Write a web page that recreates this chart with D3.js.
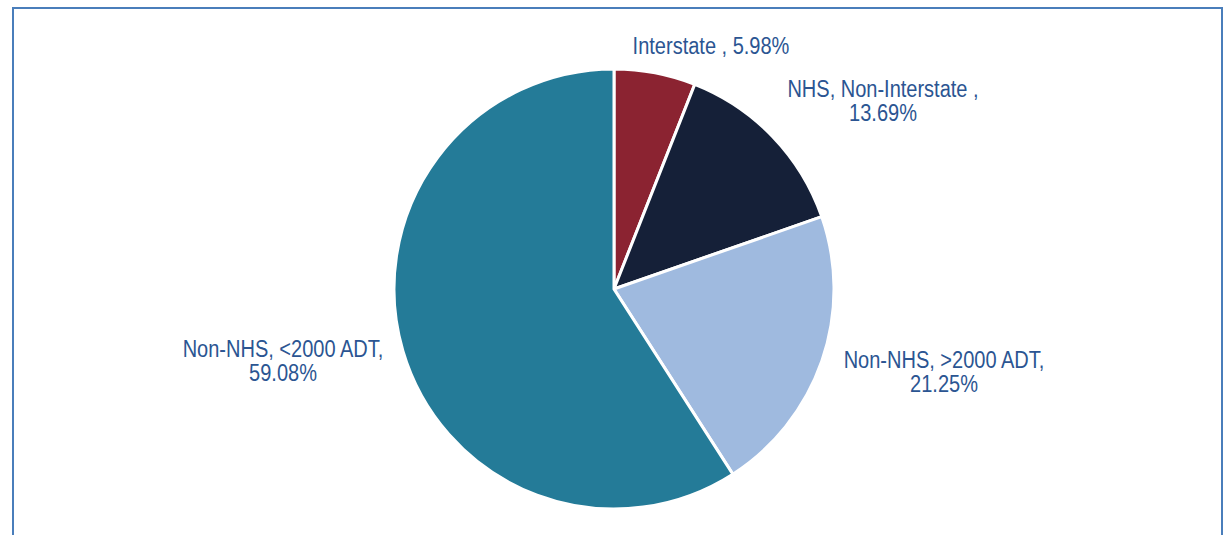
<!DOCTYPE html>
<html>
<head>
<meta charset="utf-8">
<script src="https://cdn.jsdelivr.net/npm/d3@7"></script>
<style>
  body { margin: 0; background: #fff; }
  text { font-family: "Liberation Sans Narrow", "Arial Narrow", "Liberation Sans", sans-serif; }
</style>
</head>
<body>
<div id="chart"></div>
<script>
var svgWidth = 1228;
var svgHeight = 535;

// data
var categories = ["Interstate", "NHS, Non-Interstate", "Non-NHS, >2000 ADT", "Non-NHS, <2000 ADT"];
var shares = [5.98, 13.69, 21.25, 59.08];
var colors = ["#8b2331", "#152038", "#9fbadf", "#247b98"];

// label text lines, one list per slice
var labelLines = [
    ["Interstate , 5.98%"],
    ["NHS, Non-Interstate ,", "13.69%"],
    ["Non-NHS, >2000 ADT,", "21.25%"],
    ["Non-NHS, <2000 ADT,", "59.08%"]
];
// first-line baseline of each label, offset from the pie centre
var labelOffset = [[97, -235], [269, -192], [330, 79], [-331, 68]];

var cx = 614, cy = 289, radius = 220;
var lineGap = 24;

var svg = d3.select("#chart")
    .append("svg")
    .attr("width", svgWidth)
    .attr("height", svgHeight);

// frame
svg.append("rect")
    .attr("x", 13)
    .attr("y", 8)
    .attr("width", 1209)
    .attr("height", 560)
    .attr("fill", "none")
    .attr("stroke", "#4a7ebb")
    .attr("stroke-width", 2);

var chartGroup = svg.append("g")
    .attr("transform", `translate(${cx}, ${cy})`);

var pie = d3.pie().sort(null).value(d => d);
var arc = d3.arc().innerRadius(0).outerRadius(radius);

chartGroup.selectAll("path")
    .data(pie(shares))
    .enter()
    .append("path")
    .attr("d", arc)
    .attr("fill", (d, i) => colors[i])
    .attr("stroke", "#fff")
    .attr("stroke-width", 3)
    .attr("stroke-linejoin", "miter");

// condensed look: bigger type squeezed horizontally
var labels = chartGroup.selectAll(".label")
    .data(labelLines)
    .enter()
    .append("text")
    .attr("class", "label")
    .attr("text-anchor", "middle")
    .attr("fill", "#2b5592")
    .attr("font-size", 23)
    .attr("transform", (d, i) => `translate(${labelOffset[i][0]}, ${labelOffset[i][1]}) scale(0.87, 1)`);

labels.each(function(lines) {
    var t = d3.select(this);
    lines.forEach(function(line, j) {
        t.append("tspan")
            .attr("x", 0)
            .attr("y", j * lineGap)
            .text(line);
    });
});
</script>
</body>
</html>
